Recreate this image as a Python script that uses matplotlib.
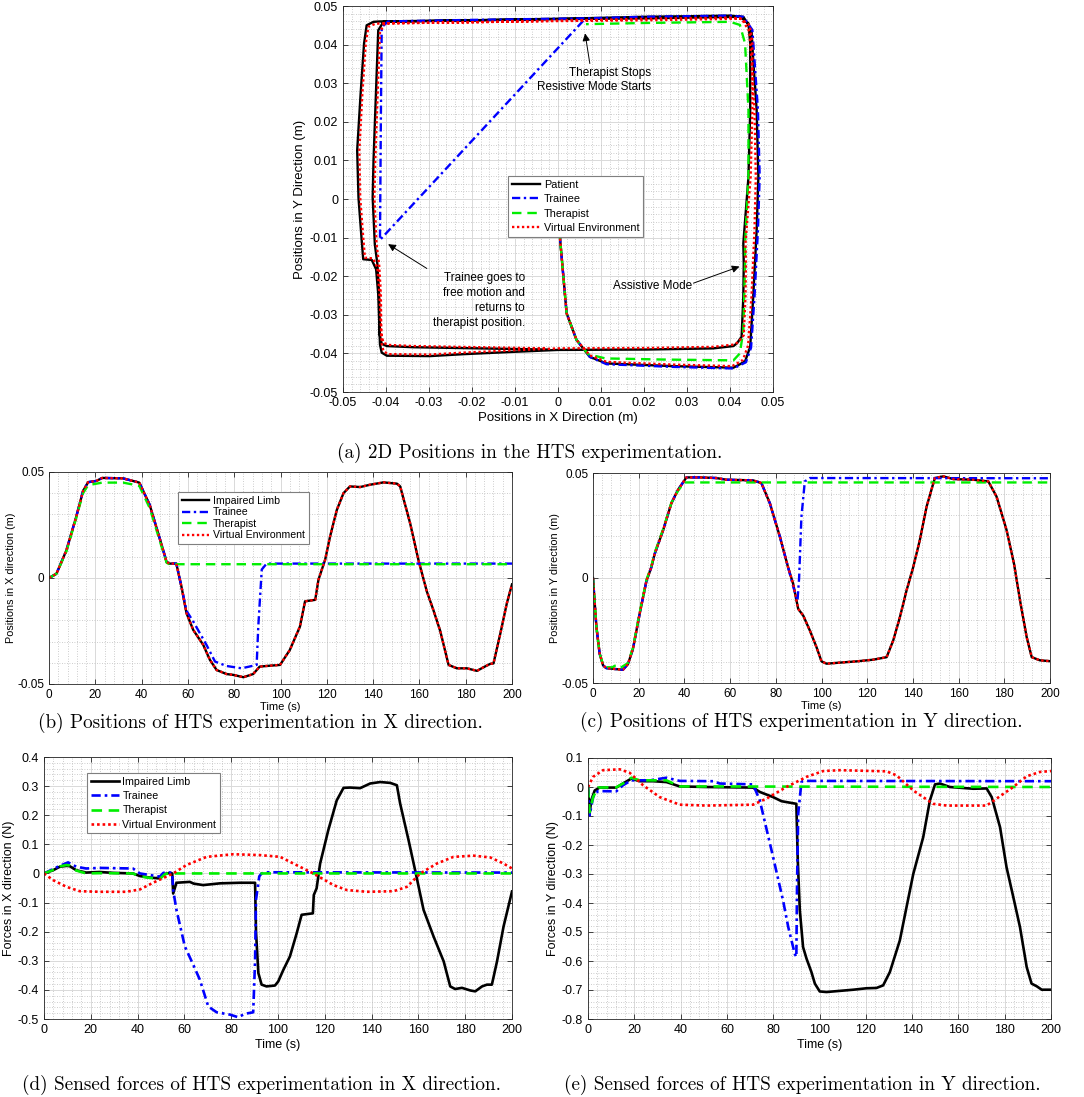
import matplotlib
matplotlib.use("Agg")
import matplotlib.pyplot as plt
from matplotlib.ticker import MultipleLocator, FuncFormatter

plt.rcParams['font.family'] = ['Liberation Sans', 'DejaVu Sans']
plt.rcParams['axes.unicode_minus'] = False

# ---------------- (a) 2D path ----------------
patient_2d_x = [0, 0.0005, 0.002, 0.0043, 0.0074, 0.0113, 0.0268, 0.0408, 0.0435, 0.0447,
                0.0454, 0.0462, 0.0466, 0.0462, 0.0454, 0.045, 0.0431, 0.04, 0.02, 0.005,
                -0.02, -0.0414, -0.0429, -0.0445, -0.0451, -0.0459, -0.0467, -0.0464, -0.0457, -0.0453,
                -0.0433, -0.0423, -0.0418, -0.0414, -0.041, -0.0398, -0.039, -0.0298, -0.022, -0.0104,
                0, 0.0206, 0.0361, 0.0408, 0.0416, 0.0427, 0.0431, 0.0432, 0.0431, 0.0443,
                0.0447, 0.0447, 0.0443, 0.0423, 0.02, 0.0, -0.02, -0.0406, -0.0418, -0.0422,
                -0.0429, -0.0431, -0.0426, -0.042, -0.0416, -0.0415, -0.041, -0.0398, -0.0336, -0.0181,
                -0.0026]
patient_2d_y = [0, -0.0106, -0.0296, -0.0365, -0.0409, -0.0426, -0.0433, -0.0437, -0.0421, -0.0383,
                -0.0253, -0.008, 0.0058, 0.023, 0.036, 0.0438, 0.0472, 0.0475, 0.0472, 0.0468,
                0.0463, 0.046, 0.0459, 0.045, 0.0403, 0.0273, 0.0126, 0.0004, -0.01, -0.0156,
                -0.0158, -0.0182, -0.0247, -0.0377, -0.0398, -0.0406, -0.0406, -0.0407, -0.0402, -0.0396,
                -0.0391, -0.039, -0.0387, -0.0381, -0.0374, -0.0357, -0.0253, -0.0167, -0.0115, 0.0058,
                0.023, 0.0403, 0.0455, 0.0472, 0.0468, 0.0466, 0.0463, 0.0459, 0.0437, 0.0316,
                0.01, 0.0004, -0.0117, -0.0169, -0.0247, -0.035, -0.0375, -0.0381, -0.0384, -0.0387,
                -0.039]
trainee_2d_x = [0, 0.0005, 0.002, 0.0043, 0.0074, 0.0113, 0.0268, 0.0408, 0.0437, 0.0449,
                0.0457, 0.0465, 0.0469, 0.0465, 0.0457, 0.0452, 0.0431, 0.04, 0.02, 0.0065,
                -0.02, -0.0395, -0.041, -0.0412, -0.0414, 0.0059]
trainee_2d_y = [0, -0.0106, -0.0296, -0.0365, -0.0409, -0.0428, -0.0435, -0.0439, -0.0423, -0.0385,
                -0.0253, -0.008, 0.0058, 0.023, 0.036, 0.0438, 0.0472, 0.0475, 0.0472, 0.0468,
                0.0464, 0.046, 0.0445, 0.02, -0.0106, 0.0462]
therapist_2d_x = [0, 0.0005, 0.002, 0.0043, 0.007, 0.011, 0.025, 0.0408, 0.0423, 0.0431,
                  0.0435, 0.0435, 0.0443, 0.0443, 0.0435, 0.0423, 0.04, 0.02, 0.0065]
therapist_2d_y = [0, -0.0106, -0.0296, -0.0365, -0.0402, -0.0413, -0.0416, -0.0418, -0.040, -0.034,
                  -0.0167, -0.0115, 0.0058, 0.023, 0.0403, 0.0451, 0.0459, 0.0456, 0.0453]
ve_2d_x = [0, 0.0005, 0.002, 0.0043, 0.0074, 0.0113, 0.0268, 0.0405, 0.043, 0.0442,
           0.045, 0.0457, 0.046, 0.0457, 0.045, 0.0445, 0.0427, 0.04, 0.02, 0.005,
           -0.02, -0.041, -0.0425, -0.0441, -0.0447, -0.0455, -0.0462, -0.046, -0.0453, -0.0449,
           -0.043, -0.042, -0.0415, -0.041, -0.0406, -0.0395, -0.039, -0.0298, -0.022, -0.0104,
           0, 0.0206, 0.0361, 0.041, 0.042, 0.0432, 0.0436, 0.0437, 0.0436, 0.0448,
           0.0452, 0.0452, 0.0446, 0.0425, 0.02, 0.0, -0.02, -0.0403, -0.0414, -0.0418,
           -0.0425, -0.0427, -0.0422, -0.0416, -0.0412, -0.0411, -0.0406, -0.0395, -0.0336, -0.0181,
           -0.0026]
ve_2d_y = [0, -0.0106, -0.0296, -0.0365, -0.0405, -0.0422, -0.0429, -0.0433, -0.0417, -0.038,
           -0.0253, -0.008, 0.0058, 0.023, 0.036, 0.0434, 0.0467, 0.047, 0.0467, 0.0463,
           0.0458, 0.0455, 0.0454, 0.0446, 0.0403, 0.0273, 0.0126, 0.0004, -0.01, -0.0152,
           -0.0154, -0.0178, -0.0247, -0.0375, -0.0394, -0.0402, -0.0402, -0.0403, -0.0398, -0.0392,
           -0.0387, -0.0386, -0.0383, -0.0377, -0.037, -0.0353, -0.0253, -0.0167, -0.0115, 0.0058,
           0.023, 0.0403, 0.045, 0.0467, 0.0463, 0.0461, 0.0458, 0.0455, 0.0433, 0.0316,
           0.01, 0.0004, -0.0117, -0.0169, -0.0247, -0.035, -0.0372, -0.0378, -0.0381, -0.0384,
           -0.0387]

# ---------------- (b) X position vs time ----------------
t_patient_x = [0, 3.2, 7.5, 11.8, 14.7, 16.9, 20.5, 23, 32, 39, 43.5, 48, 50.8, 52, 55, 57.2, 59.4,
               62.3, 66.6, 69.5, 72.4, 76.7, 79.6, 84, 88.2, 91, 94, 99.8, 104, 108.4, 110.6, 115,
               116.4, 119.3, 121.4, 124.3, 127.2, 130, 134.4, 138.7, 144.5, 150.3, 151.7, 156, 159.6,
               163.2, 166, 169, 172.6, 176.2, 180.5, 184.9, 187.7, 190.6, 192, 195, 197.8, 200]
patient_x = [0, 0.002, 0.013, 0.029, 0.041, 0.0452, 0.0458, 0.0472, 0.047, 0.045, 0.0345, 0.018,
             0.0076, 0.0068, 0.0068, -0.004, -0.0166, -0.0245, -0.0315, -0.0386, -0.0434, -0.0453,
             -0.0457, -0.0468, -0.0453, -0.0418, -0.0415, -0.041, -0.034, -0.0229, -0.011, -0.0103,
             -0.0008, 0.0087, 0.0195, 0.032, 0.04, 0.0432, 0.0429, 0.044, 0.0451, 0.0445, 0.0432,
             0.0258, 0.0084, -0.0063, -0.015, -0.025, -0.041, -0.0426, -0.0426, -0.0438, -0.0421,
             -0.0405, -0.0403, -0.026, -0.0118, -0.003]
t_trainee_x = [0, 3.2, 7.5, 11.8, 14.7, 16.9, 20.5, 23, 32, 39, 43.5, 48, 50.8, 52, 55, 57.2, 59.4,
               62.3, 68, 71.7, 76.7, 83.2, 89.7, 90.4, 91.9, 94, 200]
trainee_x = [0, 0.002, 0.013, 0.029, 0.041, 0.0452, 0.0458, 0.0472, 0.047, 0.045, 0.0345, 0.018,
             0.0076, 0.0068, 0.0068, -0.004, -0.0155, -0.0205, -0.0315, -0.0394, -0.0415, -0.0426,
             -0.041, -0.0229, 0.004, 0.0068, 0.0068]
t_therapist_x = [0, 3.2, 7.5, 11.8, 14.7, 16.9, 20.5, 23, 32, 39, 43.5, 48, 50.8, 52, 200]
therapist_x = [0, 0.002, 0.0125, 0.0285, 0.040, 0.0438, 0.0445, 0.045, 0.045, 0.0435, 0.033, 0.017,
               0.0072, 0.0065, 0.0065]
t_ve_x = t_patient_x
ve_x = patient_x

# ---------------- (c) Y position vs time ----------------
t_patient_y = [0, 0.7, 1.5, 2.9, 4.4, 5.8, 10.2, 13.1, 15.3, 17.5, 20.4, 23.4, 25.5, 27, 30.7, 34.3,
               37.2, 40.9, 46.7, 54, 58.4, 70, 73.7, 77.4, 81.8, 85.4, 87.6, 89.8, 92, 94.9, 97.8,
               100, 102.2, 108, 115.3, 122.6, 128.5, 131.4, 134.3, 137.2, 140.1, 143, 146, 149.6,
               153.3, 157.7, 166.4, 173, 176.6, 181, 184.3, 186.9, 189.8, 192, 195.6, 200]
patient_y = [0, -0.011, -0.0234, -0.036, -0.0416, -0.0429, -0.0434, -0.0437, -0.041, -0.0337,
             -0.0171, -0.0013, 0.005, 0.0115, 0.0228, 0.0356, 0.042, 0.0479, 0.0479, 0.0476, 0.0468,
             0.0465, 0.0452, 0.0356, 0.0196, 0.005, -0.0028, -0.0147, -0.0179, -0.025, -0.0329,
             -0.0397, -0.0408, -0.0403, -0.0397, -0.0389, -0.0377, -0.0297, -0.0187, -0.006, 0.005,
             0.0179, 0.034, 0.0476, 0.0484, 0.0471, 0.0468, 0.046, 0.0388, 0.0228, 0.0065, -0.0108,
             -0.0282, -0.0377, -0.0392, -0.0396]
t_trainee_y = [0, 0.7, 1.5, 2.9, 4.4, 5.8, 10.2, 13.1, 15.3, 17.5, 20.4, 23.4, 25.5, 27, 30.7, 34.3,
               37.2, 40.9, 46.7, 54, 58.4, 70, 73.7, 77.4, 81.8, 85.4, 87.6, 89.5, 90.2, 91.2, 92.7,
               94.9, 200]
trainee_y = [0, -0.011, -0.0234, -0.036, -0.0416, -0.0429, -0.0434, -0.0437, -0.041, -0.0337,
             -0.0171, -0.0013, 0.005, 0.0115, 0.0228, 0.0356, 0.042, 0.0479, 0.0479, 0.0476, 0.0468,
             0.0465, 0.0452, 0.0356, 0.0196, 0.005, -0.004, -0.0108, 0.0, 0.029, 0.046, 0.0476, 0.0475]
t_therapist_y = [0, 0.7, 1.5, 2.9, 4.4, 5.8, 8.5, 9.5, 11, 12, 15.3, 17.5, 20.4, 23.4, 25.5, 27,
                 30.7, 34.3, 37.2, 40, 200]
therapist_y = [0, -0.011, -0.0234, -0.036, -0.0412, -0.0425, -0.0425, -0.0418, -0.0418, -0.0428,
               -0.0405, -0.0332, -0.0166, -0.0008, 0.0055, 0.012, 0.0233, 0.0358, 0.0415, 0.0455,
               0.0455]
t_ve_y = t_patient_y
ve_y = patient_y

# ---------------- (d) forces X ----------------
t_patient_fx = [0, 3.9, 6.7, 9.6, 11, 13.8, 18, 23.8, 29.5, 38, 41, 45, 49.5, 51.6, 53.8, 54.8, 55.2,
                56.6, 62.3, 64, 68, 75.2, 83.7, 90.2, 90.6, 91.6, 93, 95.1, 98.7, 100.1, 102.3, 105.1,
                108, 110.1, 114.9, 115.3, 116.5, 118, 121.5, 125.1, 128, 130.8, 135.1, 139.4, 143.7,
                148, 150.8, 152.2, 155.8, 158.6, 162.2, 166.5, 170.8, 173.6, 175.7, 178.6, 182.2,
                184.3, 187.2, 189.3, 191.4, 193.6, 196.4, 200]
patient_fx = [0, 0.011, 0.023, 0.026, 0.025, 0.011, 0.003, 0.005, 0.002, 0.0, -0.009, -0.014,
              -0.017, -0.002, 0.002, 0.0, -0.069, -0.032, -0.029, -0.035, -0.04, -0.034, -0.032,
              -0.032, -0.2, -0.342, -0.382, -0.388, -0.385, -0.371, -0.331, -0.285, -0.205, -0.142,
              -0.137, -0.074, -0.051, 0.034, 0.149, 0.251, 0.294, 0.295, 0.293, 0.309, 0.314, 0.311,
              0.303, 0.24, 0.114, 0.011, -0.125, -0.217, -0.302, -0.388, -0.397, -0.393, -0.402,
              -0.405, -0.388, -0.382, -0.382, -0.302, -0.182, -0.062]
t_trainee_fx = [0, 6.7, 10.3, 13.8, 18, 23.8, 38, 41, 49.5, 51, 53.8, 54.8, 55.2, 56.6, 60.2, 63.8,
                66.6, 70.2, 73.8, 79.5, 83, 85.9, 89.4, 90.2, 90.6, 92, 93, 94.4, 200]
trainee_fx = [0, 0.026, 0.038, 0.023, 0.017, 0.019, 0.017, 0.0, -0.011, 0.002, 0.003, 0.002, -0.057,
              -0.125, -0.251, -0.314, -0.365, -0.457, -0.477, -0.485, -0.494, -0.482, -0.477, -0.3,
              -0.09, -0.01, 0.0, 0.004, 0.003]
t_therapist_fx = [0, 3.9, 6.7, 9.6, 11, 13.8, 18, 23.8, 38, 41, 45, 49.5, 51.6, 53, 200]
therapist_fx = [0, 0.012, 0.024, 0.029, 0.027, 0.01, 0.0, 0.001, 0.0, -0.01, -0.015, -0.019,
                -0.003, 0.0, 0.0]
t_ve_fx = [0, 3.9, 9.6, 15.3, 23.8, 35.2, 41, 46.6, 55.2, 60.9, 69.5, 80.9, 92.3, 100.9, 106.6,
           115.1, 123.7, 129.4, 138, 149.4, 155.1, 160.8, 167.9, 175, 183.6, 190.7, 196.4, 200]
ve_fx = [0, -0.023, -0.046, -0.061, -0.063, -0.063, -0.055, -0.032, 0.0, 0.029, 0.057, 0.066, 0.063,
         0.057, 0.034, 0.0, -0.04, -0.057, -0.063, -0.061, -0.046, 0.0, 0.034, 0.057, 0.061, 0.055,
         0.034, 0.017]

# ---------------- (e) forces Y ----------------
t_patient_fy = [0, 0.7, 1.4, 2.9, 5, 12.2, 15.1, 18.7, 22.3, 28.1, 33.9, 39.6, 51.2, 71.3, 74.2, 80,
                83.6, 90, 90.6, 91.5, 92.9, 94.4, 96.5, 98, 100.1, 103, 108.8, 114.6, 120.3, 124.6,
                127.5, 130.4, 134.7, 137.6, 140.5, 144.8, 147.7, 149.9, 152, 156.3, 166.4, 172.2,
                174.4, 178, 180.8, 183.7, 186.6, 189.5, 191.6, 193.8, 196, 200]
patient_fy = [0, -0.092, -0.046, -0.012, -0.002, -0.002, 0.012, 0.029, 0.02, 0.02, 0.017, 0.002, 0.0,
              -0.002, -0.017, -0.035, -0.049, -0.058, -0.25, -0.425, -0.552, -0.592, -0.638, -0.678,
              -0.705, -0.707, -0.703, -0.699, -0.694, -0.693, -0.684, -0.638, -0.529, -0.414, -0.3,
              -0.173, -0.046, 0.009, 0.012, 0.0, -0.006, -0.005, -0.035, -0.139, -0.277, -0.379,
              -0.483, -0.621, -0.678, -0.687, -0.699, -0.699]
t_trainee_fy = [0, 0.7, 2.2, 4.3, 12.2, 15.1, 18.7, 26.7, 33.9, 39.6, 54, 56.9, 71.3, 74.2, 80, 84.3,
                86.5, 89.3, 90, 90.3, 90.8, 92.2, 92.9, 200]
trainee_fy = [0, -0.098, -0.035, -0.014, -0.015, 0.006, 0.023, 0.023, 0.032, 0.021, 0.02, 0.012,
              0.009, -0.046, -0.243, -0.393, -0.483, -0.575, -0.586, -0.333, -0.092, 0.017, 0.021,
              0.02]
t_therapist_fy = [0, 0.7, 2.2, 4.3, 12.2, 15.1, 18.7, 22.3, 33.9, 39.6, 200]
therapist_fy = [0, -0.087, -0.035, -0.002, -0.001, 0.012, 0.032, 0.023, 0.023, 0.002, 0.0]
t_ve_fy = [0, 2.2, 6.5, 13.7, 18, 23.8, 31, 39.6, 51.2, 71.3, 77.1, 85.7, 94.4, 101.6, 108.8, 129,
           133.3, 140.5, 149.1, 154.9, 172.2, 176.5, 183.7, 189.5, 195.3, 200]
ve_fy = [0, 0.035, 0.058, 0.061, 0.049, 0.006, -0.035, -0.061, -0.064, -0.061, -0.04, 0.0, 0.035,
         0.055, 0.058, 0.054, 0.04, -0.012, -0.058, -0.064, -0.064, -0.04, 0.0, 0.037, 0.052, 0.055]

labels_2d = ["Patient", "Trainee", "Therapist", "Virtual Environment"]
labels_t = ["Impaired Limb", "Trainee", "Therapist", "Virtual Environment"]

styles = [dict(color="black", linestyle="-"),
          dict(color="#0000ff", linestyle=(0, (3.5, 1.5, 1, 1.5))),
          dict(color="#00ee00", linestyle=(0, (4, 2.5))),
          dict(color="#ff0000", linestyle=(0, (1, 1.1)))]

W, H = 1084, 1097


def box(l, t, r, b):
    return [l / W, 1 - b / H, (r - l) / W, (b - t) / H]


def fmt(v, pos):
    return "%g" % (round(v, 6) + 0.0)


def style_axes(ax, xmaj, xmin, ymaj, ymin, fs):
    ax.xaxis.set_major_locator(MultipleLocator(xmaj))
    ax.xaxis.set_minor_locator(MultipleLocator(xmin))
    ax.yaxis.set_major_locator(MultipleLocator(ymaj))
    ax.yaxis.set_minor_locator(MultipleLocator(ymin))
    ax.xaxis.set_major_formatter(FuncFormatter(fmt))
    ax.yaxis.set_major_formatter(FuncFormatter(fmt))
    ax.grid(which="major", color="#d9d9d9", linewidth=0.7)
    ax.grid(which="minor", color="#bdbdbd", linestyle=(0, (1, 2)), linewidth=0.6)
    ax.set_axisbelow(True)
    ax.tick_params(which="major", direction="in", top=True, right=True, length=3.5,
                   width=0.6, colors="#262626", labelsize=fs, labelcolor="black")
    ax.tick_params(which="minor", length=0)
    for s in ax.spines.values():
        s.set_color("#262626")
        s.set_linewidth(0.6)


def add_legend(ax, labels, x, y, fs, spacing):
    leg = ax.legend(labels, loc="upper left", bbox_to_anchor=(x, y), fontsize=fs,
                    frameon=True, fancybox=False, edgecolor="#7f7f7f", framealpha=1,
                    handlelength=2.6, handletextpad=0.35, labelspacing=spacing,
                    borderpad=0.35, borderaxespad=0)
    leg.get_frame().set_linewidth(0.8)


fig = plt.figure(figsize=(10.84, 10.97), dpi=100)
cap_font = ["cmr10", "DejaVu Serif"]
cap_size = 13.8

# (a)
ax = fig.add_axes(box(343, 6, 773, 392))
lw = 1.7
ax.plot(patient_2d_x, patient_2d_y, lw=lw, **styles[0])
ax.plot(trainee_2d_x, trainee_2d_y, lw=lw, **styles[1])
ax.plot(therapist_2d_x, therapist_2d_y, lw=lw, **styles[2])
ax.plot(ve_2d_x, ve_2d_y, lw=lw, **styles[3])
ax.set_xlim(-0.05, 0.05)
ax.set_ylim(-0.05, 0.05)
style_axes(ax, 0.01, 0.002, 0.01, 0.002, 9)
ax.set_xlabel("Positions in X Direction (m)", fontsize=9.5, labelpad=2)
ax.set_ylabel("Positions in Y Direction (m)", fontsize=9.5, labelpad=3)
add_legend(ax, labels_2d, 0.384, 0.56, 7.8, 0.42)
arrow = dict(arrowstyle="-|>", color="black", lw=0.7, mutation_scale=11, shrinkA=0, shrinkB=0)
ax.text(0.0216, 0.0308, "Therapist Stops\nResistive Mode Starts", ha="right", va="center",
        fontsize=8.5, multialignment="right", linespacing=1.3)
ax.annotate("", xy=(0.0063, 0.0429), xytext=(0.0074, 0.0351), arrowprops=arrow)
ax.text(-0.0077, -0.0263, "Trainee goes to\nfree motion and\nreturns to\ntherapist position.",
        ha="right", va="center", fontsize=8.5, multialignment="right", linespacing=1.3)
ax.annotate("", xy=(-0.0395, -0.0117), xytext=(-0.0305, -0.018), arrowprops=arrow)
ax.text(0.0129, -0.0225, "Assistive Mode", ha="left", va="center", fontsize=8.5)
ax.annotate("", xy=(0.0422, -0.0175), xytext=(0.0315, -0.0218), arrowprops=arrow)
fig.text(530 / W, 1 - 453 / H, "(a) 2D Positions in the HTS experimentation.", ha="center",
         va="center", fontsize=cap_size, family=cap_font)

# (b), (c)
pos_sets = [
    (box(49, 472, 512, 684), [(t_patient_x, patient_x), (t_trainee_x, trainee_x),
                              (t_therapist_x, therapist_x), (t_ve_x, ve_x)],
     "Positions in X direction (m)", (260, 723),
     "(b) Positions of HTS experimentation in X direction.", True),
    (box(593, 473, 1050, 683), [(t_patient_y, patient_y), (t_trainee_y, trainee_y),
                                (t_therapist_y, therapist_y), (t_ve_y, ve_y)],
     "Positions in Y direction (m)", (801, 722),
     "(c) Positions of HTS experimentation in Y direction.", False),
]
for rect, series, ylab, cpos, cap, leg in pos_sets:
    ax = fig.add_axes(rect)
    for (tt, vv), st in zip(series, styles):
        ax.plot(tt, vv, lw=1.7, **st)
    ax.set_xlim(0, 200)
    ax.set_ylim(-0.05, 0.05)
    style_axes(ax, 20, 4, 0.05, 0.01, 8.5)
    ax.set_xlabel("Time (s)", fontsize=8, labelpad=1)
    ax.set_ylabel(ylab, fontsize=7.8, labelpad=1)
    if leg:
        add_legend(ax, labels_t, 0.279, 0.906, 7.6, 0.15)
    fig.text(cpos[0] / W, 1 - cpos[1] / H, cap, ha="center", va="center", fontsize=cap_size,
             family=cap_font)

# (d), (e)
force_sets = [
    (box(44, 757, 512, 1019), [(t_patient_fx, patient_fx), (t_trainee_fx, trainee_fx),
                               (t_therapist_fx, therapist_fx), (t_ve_fx, ve_fx)],
     "Forces in X direction (N)", (-0.5, 0.4), (262, 1085),
     "(d) Sensed forces of HTS experimentation in X direction.", True),
    (box(588, 758, 1051, 1019), [(t_patient_fy, patient_fy), (t_trainee_fy, trainee_fy),
                                 (t_therapist_fy, therapist_fy), (t_ve_fy, ve_fy)],
     "Forces in Y direction (N)", (-0.8, 0.1), (802, 1085),
     "(e) Sensed forces of HTS experimentation in Y direction.", False),
]
for rect, series, ylab, ylim, cpos, cap, leg in force_sets:
    ax = fig.add_axes(rect)
    for (tt, vv), st in zip(series, styles):
        ax.plot(tt, vv, lw=1.9, **st)
    ax.set_xlim(0, 200)
    ax.set_ylim(*ylim)
    style_axes(ax, 20, 4, 0.1, 0.02, 9)
    ax.set_xlabel("Time (s)", fontsize=9, labelpad=2)
    ax.set_ylabel(ylab, fontsize=9, labelpad=2)
    if leg:
        add_legend(ax, labels_t, 0.092, 0.939, 7.7, 0.4)
    fig.text(cpos[0] / W, 1 - cpos[1] / H, cap, ha="center", va="center", fontsize=cap_size,
             family=cap_font)

fig.savefig("out.png", dpi=100)
plt.close("all")
